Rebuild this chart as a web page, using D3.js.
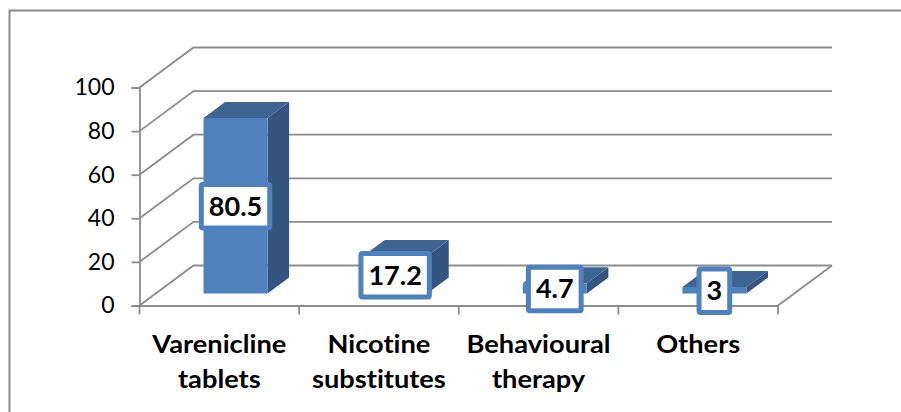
<!DOCTYPE html>
<html>
<head>
<meta charset="utf-8">
<script src="https://cdn.jsdelivr.net/npm/d3@7"></script>
<style>
html, body { margin: 0; padding: 0; background: #fff; overflow: hidden; }
svg { display: block; }
text { font-family: Lato, "Open Sans", sans-serif; fill: #000; font-variant-ligatures: none; }
</style>
</head>
<body>
<svg id="chart" width="901" height="412"></svg>
<script>
// Chart data
const categoryLines = [
  ["Varenicline", "tablets"],
  ["Nicotine", "substitutes"],
  ["Behavioural", "therapy"],
  ["Others"]
];
const values = [80.5, 17.2, 4.7, 3];
const valueTicks = [0, 20, 40, 60, 80, 100];

// Colours
const axisGrey = "#8c8c8c";
const frontBlue = "#4f81bd";
const topBlue = "#3e6592";
const sideBlue = "#34557f";

const svg = d3.select("#chart");
const categoryIds = d3.range(values.length);

// Front plane scales
const x = d3.scaleBand().domain(categoryIds).range([139.5, 778]);
const y = d3.scaleLinear().domain([0, 100]).range([305.5, 87.5]);

// Oblique projection: depth 0 is the front of the floor, depth 1 the back wall
const wallDx = 54, wallDy = -40;
const project = (px, py, depth) => [px + wallDx * depth, py + wallDy * depth];

const barWidth = 64;
const barNearDepth = 0.30;
const barFarDepth = 0.70;

// Chart area outline: left and top edges reach past the window
svg.append("path")
  .attr("d", "M9.5,420V10.5H910")
  .attr("fill", "none")
  .attr("stroke", axisGrey)
  .attr("stroke-width", 2);

// Back wall gridlines and their diagonals on the side wall
const grid = svg.append("g")
  .attr("fill", "none")
  .attr("stroke", axisGrey)
  .attr("stroke-width", 1.8);

valueTicks.forEach(t => {
  const front = [x.range()[0], y(t)];
  const back = project(front[0], front[1], 1);
  const end = project(x.range()[1], y(t), 1);
  grid.append("path").attr("d", d3.line()([front, back, end]));
});

// Floor edge on the right-hand side
grid.append("path").attr("d", d3.line()([
  [x.range()[1], y(0)],
  project(x.range()[1], y(0), 1)
]));

// Value axis
const yAxis = svg.append("g")
  .attr("transform", `translate(${x.range()[0]},0)`)
  .call(d3.axisLeft(y).tickValues(valueTicks).tickSize(8).tickPadding(17));
yAxis.selectAll("path, line").attr("stroke", axisGrey).attr("stroke-width", 1.8);
yAxis.selectAll("text").attr("font-size", 23).style("font-family", "Lato, sans-serif");

// Category axis: ticks sit on band edges, labels on band centres
const xAxis = svg.append("g")
  .attr("transform", `translate(0,${y(0)})`)
  .call(d3.axisBottom(x).tickSize(0).tickFormat(""));
xAxis.select("path").attr("stroke", axisGrey).attr("stroke-width", 1.8);

const edges = categoryIds.map(i => x(i)).concat(x.range()[1]);
xAxis.selectAll("line.edge")
  .data(edges)
  .join("line")
  .attr("class", "edge")
  .attr("x1", d => d).attr("x2", d => d)
  .attr("y1", 0).attr("y2", 9)
  .attr("stroke", axisGrey)
  .attr("stroke-width", 1.8);

// Category labels are set slightly wide
const categoryStretch = 1.09;
xAxis.selectAll("text.category")
  .data(categoryLines)
  .join("text")
  .attr("class", "category")
  .attr("text-anchor", "middle")
  .attr("font-size", 25)
  .attr("font-weight", 700)
  .attr("transform", (_, i) => `translate(${x(i) + x.bandwidth() / 2},0) scale(${categoryStretch},1)`)
  .each(function (lines) {
    d3.select(this).selectAll("tspan")
      .data(lines)
      .join("tspan")
      .attr("x", 0)
      .attr("y", (_, k) => 47.5 + k * 35.5)
      .text(d => d);
  });

// Bars: front face, top face, side face
const bars = svg.append("g");
values.forEach((v, i) => {
  const cx = x(i) + x.bandwidth() / 2;
  const nearCx = project(cx, 0, barNearDepth)[0];
  const left = nearCx - barWidth / 2;
  const right = nearCx + barWidth / 2;
  const base = project(0, y(0), barNearDepth)[1];
  const top = base - (y(0) - y(v));
  const dd = barFarDepth - barNearDepth;
  const back = (px, py) => project(px, py, dd);

  const g = bars.append("g");
  g.append("path")
    .attr("fill", topBlue)
    .attr("d", d3.line()([[left, top], [right, top], back(right, top), back(left, top)]) + "Z");
  g.append("path")
    .attr("fill", sideBlue)
    .attr("d", d3.line()([[right, top], back(right, top), back(right, base), [right, base]]) + "Z");
  g.append("rect")
    .attr("fill", frontBlue)
    .attr("x", left).attr("y", top)
    .attr("width", right - left).attr("height", base - top);
});

// Value labels: boxed and centred on each bar's front face
const labels = svg.append("g");
values.forEach((v, i) => {
  const cx = x(i) + x.bandwidth() / 2;
  const nearCx = project(cx, 0, barNearDepth)[0];
  const base = project(0, y(0), barNearDepth)[1];
  const mid = base - (y(0) - y(v)) / 2;

  const g = labels.append("g").attr("transform", `translate(${nearCx},${mid + 0.5})`);
  const box = g.append("rect");
  const text = g.append("text")
    .attr("text-anchor", "middle")
    .attr("dy", "0.35em")
    .attr("font-size", 27)
    .attr("font-weight", 700)
    .text(v);
  const w = text.node().getBBox().width + 15;
  box.attr("x", -w / 2).attr("y", -21.75)
    .attr("width", w).attr("height", 43.5)
    .attr("rx", 1.5)
    .attr("fill", "#fff")
    .attr("stroke", frontBlue)
    .attr("stroke-width", 5);
});
</script>
</body>
</html>
